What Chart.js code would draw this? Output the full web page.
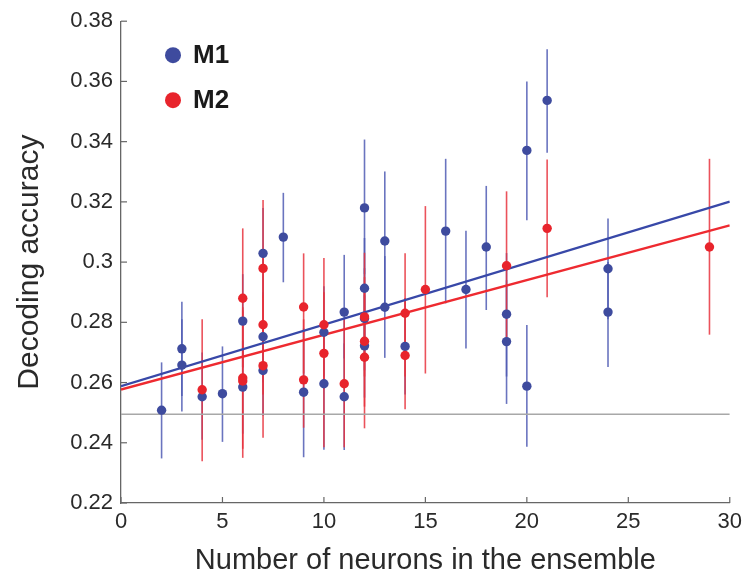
<!DOCTYPE html>
<html>
<head>
<meta charset="utf-8">
<script src="https://cdn.jsdelivr.net/npm/chart.js@4/dist/chart.umd.min.js"></script>
<style>
  html, body { margin: 0; padding: 0; background: #fff; }
</style>
</head>
<body>
<canvas id="chart" width="748" height="580"></canvas>
<script>
// M1 points: ensemble size, accuracy, error bar low / high
const m1X  = [2, 3, 3, 4, 5, 6, 6, 7, 7, 7, 8, 9, 10, 10, 11, 11, 12, 12, 12, 12, 13, 13, 14, 16, 17, 18, 19, 19, 20, 20, 21, 24, 24];
const m1Y  = [0.2508, 0.2712, 0.2658, 0.2553, 0.2563, 0.2804, 0.2585, 0.3029, 0.2752, 0.2640, 0.3083, 0.2568, 0.2767, 0.2596, 0.2834, 0.2553, 0.3180, 0.2913, 0.2813, 0.2722, 0.3070, 0.2850, 0.2720, 0.3103, 0.2909, 0.3050, 0.2827, 0.2736, 0.3371, 0.2588, 0.3537, 0.2978, 0.2834];
const m1Lo = [0.2348, 0.2555, 0.2504, 0.2410, 0.2403, 0.2650, 0.2430, 0.2880, 0.2600, 0.2490, 0.2933, 0.2352, 0.2620, 0.2377, 0.2680, 0.2376, 0.2960, 0.2740, 0.2640, 0.2550, 0.2855, 0.2682, 0.2560, 0.2863, 0.2713, 0.2841, 0.2620, 0.2529, 0.3139, 0.2387, 0.3363, 0.2810, 0.2652];
const m1Hi = [0.2667, 0.2868, 0.2810, 0.2700, 0.2720, 0.2960, 0.2740, 0.3180, 0.2900, 0.2790, 0.3230, 0.2780, 0.2920, 0.2810, 0.3024, 0.2730, 0.3407, 0.3080, 0.2980, 0.2890, 0.3301, 0.3020, 0.2880, 0.3343, 0.3104, 0.3253, 0.3030, 0.2940, 0.3600, 0.2791, 0.3707, 0.3145, 0.3000];

// M2 points
const m2X  = [4, 6, 6, 6, 7, 7, 7, 9, 9, 10, 10, 11, 12, 12, 12, 14, 14, 15, 19, 21, 29];
const m2Y  = [0.2576, 0.2880, 0.2615, 0.2605, 0.2979, 0.2792, 0.2656, 0.2851, 0.2609, 0.2792, 0.2697, 0.2596, 0.2818, 0.2737, 0.2684, 0.2830, 0.2690, 0.2909, 0.2988, 0.3112, 0.3050];
const m2Lo = [0.2339, 0.2650, 0.2380, 0.2350, 0.2760, 0.2560, 0.2417, 0.2630, 0.2450, 0.2580, 0.2385, 0.2385, 0.2620, 0.2520, 0.2448, 0.2620, 0.2511, 0.2630, 0.2740, 0.2883, 0.2759];
const m2Hi = [0.2810, 0.3112, 0.2850, 0.2840, 0.3206, 0.3020, 0.2890, 0.3029, 0.2810, 0.3014, 0.2900, 0.2810, 0.3031, 0.2950, 0.2900, 0.3029, 0.2880, 0.3186, 0.3235, 0.3341, 0.3343];

// linear fits and chance level
const fitX   = [0, 30];
const fitM1  = [0.2588, 0.3201];
const fitM2  = [0.2577, 0.3122];
const chance = [0.2495, 0.2495];

// ticks
const xTicks = [0, 5, 10, 15, 20, 25, 30];
const yTicks = [0.22, 0.24, 0.26, 0.28, 0.30, 0.32, 0.34, 0.36, 0.38];
const yTickLabels = ['0.22', '0.24', '0.26', '0.28', '0.3', '0.32', '0.34', '0.36', '0.38'];

const legendNames = ['M1', 'M2'];

const BLUE = '#3e4b9e';
const RED = '#e8242c';
const FONT = '"Liberation Sans", Arial, Helvetica, sans-serif';

function pts(xs, ys) {
  return xs.map((x, i) => ({ x: x, y: ys[i] }));
}

// error bars, inward ticks and the legend
const decor = {
  id: 'decor',
  beforeDatasetsDraw(chart) {
    const ctx = chart.ctx;
    const xs = chart.scales.x, ys = chart.scales.y;
    const bars = [
      [m1X, m1Lo, m1Hi, 'rgba(80,92,180,0.85)'],
      [m2X, m2Lo, m2Hi, 'rgba(232,52,62,0.85)']
    ];
    ctx.save();
    ctx.lineWidth = 1.6;
    bars.forEach(b => {
      ctx.strokeStyle = b[3];
      b[0].forEach((x, i) => {
        const px = xs.getPixelForValue(x);
        ctx.beginPath();
        ctx.moveTo(px, ys.getPixelForValue(b[1][i]));
        ctx.lineTo(px, ys.getPixelForValue(b[2][i]));
        ctx.stroke();
      });
    });
    ctx.restore();
  },
  afterDraw(chart) {
    const ctx = chart.ctx;
    const area = chart.chartArea;
    const xs = chart.scales.x, ys = chart.scales.y;
    ctx.save();
    ctx.strokeStyle = '#666';
    ctx.lineWidth = 1.2;
    yTicks.forEach(v => {
      const py = ys.getPixelForValue(v);
      ctx.beginPath();
      ctx.moveTo(area.left, py);
      ctx.lineTo(area.left + 6, py);
      ctx.stroke();
    });
    xTicks.forEach(v => {
      const px = xs.getPixelForValue(v);
      ctx.beginPath();
      ctx.moveTo(px, area.bottom);
      ctx.lineTo(px, area.bottom - 6);
      ctx.stroke();
    });

    // legend
    const cols = [BLUE, RED];
    ctx.font = 'bold 26px ' + FONT;
    ctx.textBaseline = 'middle';
    legendNames.forEach((name, i) => {
      const cy = area.top + 34 + i * 45;
      ctx.fillStyle = cols[i];
      ctx.beginPath();
      ctx.arc(area.left + 52, cy, 8, 0, Math.PI * 2);
      ctx.fill();
      ctx.fillStyle = '#1a1a1a';
      ctx.fillText(name, area.left + 72, cy + 1);
    });
    ctx.restore();
  }
};

new Chart(document.getElementById('chart'), {
  type: 'scatter',
  data: {
    datasets: [
      {
        label: 'M2',
        data: pts(m2X, m2Y),
        backgroundColor: RED,
        borderWidth: 0,
        pointRadius: 4.7
      },
      {
        label: 'M1',
        data: pts(m1X, m1Y),
        backgroundColor: BLUE,
        borderWidth: 0,
        pointRadius: 4.7
      },
      {
        type: 'line',
        label: 'fit M2',
        data: pts(fitX, fitM2),
        borderColor: '#ee2a30',
        borderWidth: 2.4,
        pointRadius: 0
      },
      {
        type: 'line',
        label: 'fit M1',
        data: pts(fitX, fitM1),
        borderColor: '#3848a8',
        borderWidth: 2.4,
        pointRadius: 0
      },
      {
        type: 'line',
        label: 'chance',
        data: pts(fitX, chance),
        borderColor: '#a8a8a8',
        borderWidth: 1.5,
        pointRadius: 0
      }
    ]
  },
  options: {
    responsive: false,
    animation: false,
    layout: { padding: { top: 20, right: 17, left: 0, bottom: 0 } },
    plugins: {
      legend: { display: false },
      tooltip: { enabled: false }
    },
    scales: {
      x: {
        type: 'linear',
        min: 0,
        max: 30,
        afterBuildTicks: s => { s.ticks = xTicks.map(v => ({ value: v })); },
        afterFit: s => { s.height = 77; },
        grid: { display: false, drawTicks: false },
        border: { display: true, color: '#666', width: 1.3 },
        ticks: {
          padding: 6,
          color: '#2a2a2a',
          font: { family: FONT, size: 22 },
          maxRotation: 0
        },
        title: {
          display: true,
          text: 'Number of neurons in the ensemble',
          color: '#2a2a2a',
          font: { family: FONT, size: 29 },
          padding: { top: 0, bottom: 2 }
        }
      },
      y: {
        type: 'linear',
        min: 0.22,
        max: 0.38,
        afterBuildTicks: s => { s.ticks = yTicks.map(v => ({ value: v })); },
        afterFit: s => { s.width = 121; },
        grid: { display: false, drawTicks: false },
        border: { display: true, color: '#666', width: 1.3 },
        ticks: {
          padding: 8,
          color: '#2a2a2a',
          font: { family: FONT, size: 22 },
          callback: (v, i) => yTickLabels[i]
        },
        title: {
          display: true,
          text: 'Decoding accuracy',
          color: '#2a2a2a',
          font: { family: FONT, size: 30 },
          padding: { top: 12, bottom: 0 }
        }
      }
    }
  },
  plugins: [decor]
});
</script>
</body>
</html>
